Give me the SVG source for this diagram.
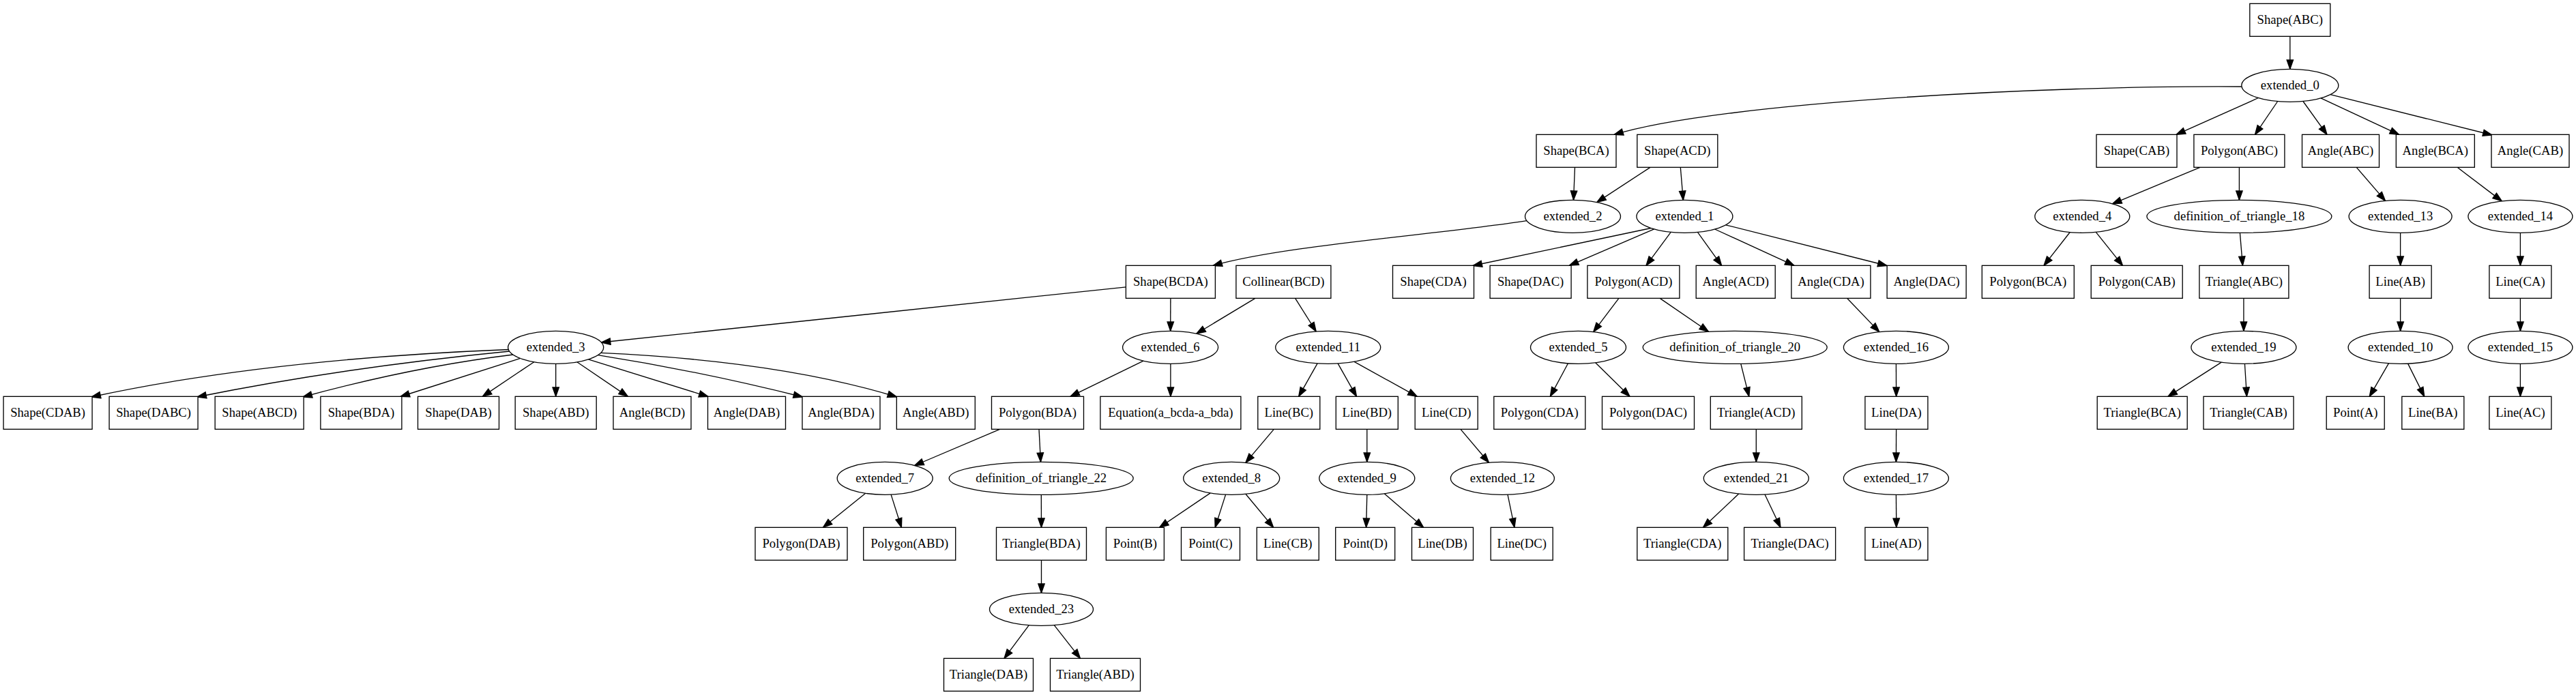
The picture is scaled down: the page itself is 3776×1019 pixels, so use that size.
<svg xmlns="http://www.w3.org/2000/svg" width="3776" height="1019" viewBox="0 0 3776 1019">
<style>
.b{fill:#fff;stroke:#000;stroke-width:1.33}
.e{fill:#fff;stroke:#000;stroke-width:1.33}
.t{font-family:"Liberation Serif","Times New Roman",serif;font-size:18.67px;text-anchor:middle;fill:#000}
.l{fill:none;stroke:#000;stroke-width:1.33;marker-end:url(#ah)}
</style>
<defs>
<marker id="ah" markerUnits="userSpaceOnUse" viewBox="0 0 14 10" markerWidth="14" markerHeight="10" refX="13.33" refY="5" orient="auto" overflow="visible">
<path d="M0,0.33 L13.33,5 L0,9.67 Z" fill="#000" stroke="#000" stroke-width="1.33"/>
</marker>
</defs>
<rect width="3776" height="1019" fill="#fff"/>
<g id="edges">
<path class="l" d="M3356.8,53.33 L3356.8,101.33"/>
<path class="l" d="M3285.8,127 C3000,125 2520,150 2366,197.5"/>
<path class="l" d="M3310.5,143.5 L3190,197.33"/>
<path class="l" d="M3338.7,148.5 L3305.5,197.33"/>
<path class="l" d="M3375.9,148.5 L3411,197.33"/>
<path class="l" d="M3402,143.8 L3516.6,197.33"/>
<path class="l" d="M3416,138.6 L3653,198"/>
<path class="l" d="M2308.5,245.33 L2306.5,293.33"/>
<path class="l" d="M2419,245.33 L2340.7,296.6"/>
<path class="l" d="M2463.3,245.33 L2467.3,293.4"/>
<path class="l" d="M2238,323.7 C2100,345 1880,360 1778,389.5"/>
<path class="l" d="M2420,334.5 L2159,389.5"/>
<path class="l" d="M2424.7,335.9 L2300.4,389.33"/>
<path class="l" d="M2449.2,340.3 L2413,389.33"/>
<path class="l" d="M2488.4,340.4 L2523.6,389.33"/>
<path class="l" d="M2513.6,336 L2630,389.33"/>
<path class="l" d="M2529.6,329.8 L2766,389.5"/>
<path class="l" d="M3225,245.33 L3096.5,298.8"/>
<path class="l" d="M3282.4,245.33 L3282.4,293.33"/>
<path class="l" d="M3454.2,245.33 L3496.5,294.4"/>
<path class="l" d="M3602,245.33 L3667.3,294.9"/>
<path class="l" d="M3034.2,340.5 L2996,389.33"/>
<path class="l" d="M3072.3,340.3 L3111.5,389.33"/>
<path class="l" d="M3283.4,341.33 L3287.4,389.33"/>
<path class="l" d="M3518.6,341.33 L3518.6,389.33"/>
<path class="l" d="M3694.4,341.33 L3694.4,389.33"/>
<path class="l" d="M1650.5,420.8 L881.4,502"/>
<path class="l" d="M1715.9,437.33 L1715.7,485.33"/>
<path class="l" d="M1839.9,437.33 L1753.8,489.2"/>
<path class="l" d="M1898.6,437.33 L1929.2,486"/>
<path class="l" d="M2372.9,437.33 L2335.7,486.6"/>
<path class="l" d="M2433.2,437.33 L2504.5,486.3"/>
<path class="l" d="M2707.5,437.33 L2754.8,486.6"/>
<path class="l" d="M3288.9,437.33 L3288.9,485.33"/>
<path class="l" d="M3518.6,437.33 L3518.6,485.33"/>
<path class="l" d="M3694.4,437.33 L3694.4,485.33"/>
<path class="l" d="M745.5,512.5 Q389.4,526.6 134,582"/>
<path class="l" d="M747,515 Q501.75,539 289,582"/>
<path class="l" d="M752,520 Q605,538 444,582"/>
<path class="l" d="M762.8,525.4 L587,581.5"/>
<path class="l" d="M782.8,530.7 L707.3,581.33"/>
<path class="l" d="M814.7,533.33 L814.7,581.33"/>
<path class="l" d="M845.8,530.8 L920.4,581.33"/>
<path class="l" d="M862.4,526.9 L1038,581.5"/>
<path class="l" d="M876.5,520.6 Q1025,544 1176.5,582"/>
<path class="l" d="M880.6,517.4 Q1142.8,529.2 1314.5,582"/>
<path class="l" d="M1676,529.1 L1568.9,581.33"/>
<path class="l" d="M1715.9,533.33 L1715.9,581.33"/>
<path class="l" d="M1931.1,532.8 L1903.7,581.33"/>
<path class="l" d="M1961.1,532.9 L1988.5,581.33"/>
<path class="l" d="M1984.7,530.2 L2077.2,581.33"/>
<path class="l" d="M2298.5,532.8 L2272.4,581.33"/>
<path class="l" d="M2338.7,531.7 L2389,581.33"/>
<path class="l" d="M2551.8,533.3 L2563.8,581.33"/>
<path class="l" d="M2779.4,533.33 L2779.6,581.33"/>
<path class="l" d="M3256.3,531.1 L3177.9,581.33"/>
<path class="l" d="M3290.4,533.33 L3293.4,581.33"/>
<path class="l" d="M3501.5,532.7 L3473.3,581.33"/>
<path class="l" d="M3529.6,533.1 L3553.7,581.33"/>
<path class="l" d="M3694.4,533.33 L3694.4,581.33"/>
<path class="l" d="M1465.6,629.33 L1340.6,682.5"/>
<path class="l" d="M1523,629.33 L1525.5,677.33"/>
<path class="l" d="M1867.3,629.33 L1825.9,678.4"/>
<path class="l" d="M2003.8,629.33 L2003.8,677.33"/>
<path class="l" d="M2141,629.33 L2182.4,678.2"/>
<path class="l" d="M2574.3,629.33 L2574.3,677.33"/>
<path class="l" d="M2779.6,629.33 L2779.4,677.33"/>
<path class="l" d="M1268.7,723.2 L1206.5,773.33"/>
<path class="l" d="M1306.1,725.1 L1321.4,773.33"/>
<path class="l" d="M1526.3,725.33 L1526.5,773.33"/>
<path class="l" d="M1774.2,722.9 L1699.6,773.33"/>
<path class="l" d="M1796.6,725.1 L1781.2,773.33"/>
<path class="l" d="M1825.9,724.3 L1866.7,773.33"/>
<path class="l" d="M2003.8,725.33 L2002.6,773.33"/>
<path class="l" d="M2029.3,723.7 L2086.7,773.33"/>
<path class="l" d="M2210,725.2 L2220,773.33"/>
<path class="l" d="M2548.7,724 L2496.5,773.33"/>
<path class="l" d="M2587,725 L2610,773.33"/>
<path class="l" d="M2779.4,725.33 L2779.8,773.33"/>
<path class="l" d="M1526.5,821.33 L1526.5,869.33"/>
<path class="l" d="M1508.3,916.6 L1472,965.33"/>
<path class="l" d="M1545.3,916.6 L1583.5,965.33"/>
</g>
<g id="Shape_ABC"><rect class="b" x="3297.8" y="5.33" width="118" height="48"/><text class="t" x="3356.8" y="34.9">Shape(ABC)</text></g>
<g id="extended_0"><ellipse class="e" cx="3356.8" cy="125.33" rx="71" ry="24"/><text class="t" x="3356.8" y="130.9">extended_0</text></g>
<g id="Shape_BCA"><rect class="b" x="2252" y="197.33" width="117" height="48"/><text class="t" x="2310.5" y="226.9">Shape(BCA)</text></g>
<g id="Shape_ACD"><rect class="b" x="2399.8" y="197.33" width="118" height="48"/><text class="t" x="2458.8" y="226.9">Shape(ACD)</text></g>
<g id="Shape_CAB"><rect class="b" x="3073" y="197.33" width="118" height="48"/><text class="t" x="3132" y="226.9">Shape(CAB)</text></g>
<g id="Polygon_ABC"><rect class="b" x="3215.9" y="197.33" width="133" height="48"/><text class="t" x="3282.4" y="226.9">Polygon(ABC)</text></g>
<g id="Angle_ABC"><rect class="b" x="3374.5" y="197.33" width="113" height="48"/><text class="t" x="3431" y="226.9">Angle(ABC)</text></g>
<g id="Angle_BCA"><rect class="b" x="3512.3" y="197.33" width="115" height="48"/><text class="t" x="3569.8" y="226.9">Angle(BCA)</text></g>
<g id="Angle_CAB"><rect class="b" x="3652" y="197.33" width="114" height="48"/><text class="t" x="3709" y="226.9">Angle(CAB)</text></g>
<g id="extended_2"><ellipse class="e" cx="2305.5" cy="317.33" rx="70" ry="24"/><text class="t" x="2305.5" y="322.9">extended_2</text></g>
<g id="extended_1"><ellipse class="e" cx="2469.4" cy="317.33" rx="70.5" ry="24"/><text class="t" x="2469.4" y="322.9">extended_1</text></g>
<g id="extended_4"><ellipse class="e" cx="3052.3" cy="317.33" rx="69.5" ry="24"/><text class="t" x="3052.3" y="322.9">extended_4</text></g>
<g id="definition_of_triangle_18"><ellipse class="e" cx="3282.4" cy="317.33" rx="135.5" ry="24"/><text class="t" x="3282.4" y="322.9">definition_of_triangle_18</text></g>
<g id="extended_13"><ellipse class="e" cx="3518.6" cy="317.33" rx="75.5" ry="24"/><text class="t" x="3518.6" y="322.9">extended_13</text></g>
<g id="extended_14"><ellipse class="e" cx="3694.4" cy="317.33" rx="76.5" ry="24"/><text class="t" x="3694.4" y="322.9">extended_14</text></g>
<g id="Shape_BCDA"><rect class="b" x="1650.4" y="389.33" width="131" height="48"/><text class="t" x="1715.9" y="418.9">Shape(BCDA)</text></g>
<g id="Collinear_BCD"><rect class="b" x="1811.9" y="389.33" width="139" height="48"/><text class="t" x="1881.4" y="418.9">Collinear(BCD)</text></g>
<g id="Shape_CDA"><rect class="b" x="2041.5" y="389.33" width="119" height="48"/><text class="t" x="2101" y="418.9">Shape(CDA)</text></g>
<g id="Shape_DAC"><rect class="b" x="2184.1" y="389.33" width="119" height="48"/><text class="t" x="2243.6" y="418.9">Shape(DAC)</text></g>
<g id="Polygon_ACD"><rect class="b" x="2326.9" y="389.33" width="135" height="48"/><text class="t" x="2394.4" y="418.9">Polygon(ACD)</text></g>
<g id="Angle_ACD"><rect class="b" x="2486.2" y="389.33" width="116" height="48"/><text class="t" x="2544.2" y="418.9">Angle(ACD)</text></g>
<g id="Angle_CDA"><rect class="b" x="2625.9" y="389.33" width="116" height="48"/><text class="t" x="2683.9" y="418.9">Angle(CDA)</text></g>
<g id="Angle_DAC"><rect class="b" x="2766.1" y="389.33" width="116" height="48"/><text class="t" x="2824.1" y="418.9">Angle(DAC)</text></g>
<g id="Polygon_BCA"><rect class="b" x="2905.3" y="389.33" width="135" height="48"/><text class="t" x="2972.8" y="418.9">Polygon(BCA)</text></g>
<g id="Polygon_CAB"><rect class="b" x="3065.2" y="389.33" width="134" height="48"/><text class="t" x="3132.2" y="418.9">Polygon(CAB)</text></g>
<g id="Triangle_ABC"><rect class="b" x="3223.9" y="389.33" width="131" height="48"/><text class="t" x="3289.4" y="418.9">Triangle(ABC)</text></g>
<g id="Line_AB"><rect class="b" x="3473.1" y="389.33" width="91" height="48"/><text class="t" x="3518.6" y="418.9">Line(AB)</text></g>
<g id="Line_CA"><rect class="b" x="3648.9" y="389.33" width="91" height="48"/><text class="t" x="3694.4" y="418.9">Line(CA)</text></g>
<g id="extended_3"><ellipse class="e" cx="814.7" cy="509.33" rx="70" ry="24"/><text class="t" x="814.7" y="514.9">extended_3</text></g>
<g id="extended_6"><ellipse class="e" cx="1715.6" cy="509.33" rx="70" ry="24"/><text class="t" x="1715.6" y="514.9">extended_6</text></g>
<g id="extended_11"><ellipse class="e" cx="1946.7" cy="509.33" rx="77" ry="24"/><text class="t" x="1946.7" y="514.9">extended_11</text></g>
<g id="extended_5"><ellipse class="e" cx="2313.5" cy="509.33" rx="70" ry="24"/><text class="t" x="2313.5" y="514.9">extended_5</text></g>
<g id="definition_of_triangle_20"><ellipse class="e" cx="2543.2" cy="509.33" rx="135" ry="24"/><text class="t" x="2543.2" y="514.9">definition_of_triangle_20</text></g>
<g id="extended_16"><ellipse class="e" cx="2779.4" cy="509.33" rx="77" ry="24"/><text class="t" x="2779.4" y="514.9">extended_16</text></g>
<g id="extended_19"><ellipse class="e" cx="3288.9" cy="509.33" rx="77" ry="24"/><text class="t" x="3288.9" y="514.9">extended_19</text></g>
<g id="extended_10"><ellipse class="e" cx="3518.6" cy="509.33" rx="76.5" ry="24"/><text class="t" x="3518.6" y="514.9">extended_10</text></g>
<g id="extended_15"><ellipse class="e" cx="3694.4" cy="509.33" rx="76.5" ry="24"/><text class="t" x="3694.4" y="514.9">extended_15</text></g>
<g id="Shape_CDAB"><rect class="b" x="5.1" y="581.33" width="130" height="48"/><text class="t" x="70.1" y="610.9">Shape(CDAB)</text></g>
<g id="Shape_DABC"><rect class="b" x="160.1" y="581.33" width="130" height="48"/><text class="t" x="225.1" y="610.9">Shape(DABC)</text></g>
<g id="Shape_ABCD"><rect class="b" x="315.2" y="581.33" width="130" height="48"/><text class="t" x="380.2" y="610.9">Shape(ABCD)</text></g>
<g id="Shape_BDA"><rect class="b" x="469.9" y="581.33" width="119" height="48"/><text class="t" x="529.4" y="610.9">Shape(BDA)</text></g>
<g id="Shape_DAB"><rect class="b" x="612.5" y="581.33" width="119" height="48"/><text class="t" x="672" y="610.9">Shape(DAB)</text></g>
<g id="Shape_ABD"><rect class="b" x="755.2" y="581.33" width="119" height="48"/><text class="t" x="814.7" y="610.9">Shape(ABD)</text></g>
<g id="Angle_BCD"><rect class="b" x="899" y="581.33" width="114" height="48"/><text class="t" x="956" y="610.9">Angle(BCD)</text></g>
<g id="Angle_DAB"><rect class="b" x="1037.5" y="581.33" width="114" height="48"/><text class="t" x="1094.5" y="610.9">Angle(DAB)</text></g>
<g id="Angle_BDA"><rect class="b" x="1176" y="581.33" width="114" height="48"/><text class="t" x="1233" y="610.9">Angle(BDA)</text></g>
<g id="Angle_ABD"><rect class="b" x="1314.3" y="581.33" width="115" height="48"/><text class="t" x="1371.8" y="610.9">Angle(ABD)</text></g>
<g id="Polygon_BDA"><rect class="b" x="1453.5" y="581.33" width="135" height="48"/><text class="t" x="1521" y="610.9">Polygon(BDA)</text></g>
<g id="Equation_a_bcda-a_bda"><rect class="b" x="1612.9" y="581.33" width="206" height="48"/><text class="t" x="1715.9" y="610.9">Equation(a_bcda-a_bda)</text></g>
<g id="Line_BC"><rect class="b" x="1843.8" y="581.33" width="91" height="48"/><text class="t" x="1889.3" y="610.9">Line(BC)</text></g>
<g id="Line_BD"><rect class="b" x="1958.3" y="581.33" width="91" height="48"/><text class="t" x="2003.8" y="610.9">Line(BD)</text></g>
<g id="Line_CD"><rect class="b" x="2074.2" y="581.33" width="92" height="48"/><text class="t" x="2120.2" y="610.9">Line(CD)</text></g>
<g id="Polygon_CDA"><rect class="b" x="2189.8" y="581.33" width="134" height="48"/><text class="t" x="2256.8" y="610.9">Polygon(CDA)</text></g>
<g id="Polygon_DAC"><rect class="b" x="2348.5" y="581.33" width="135" height="48"/><text class="t" x="2416" y="610.9">Polygon(DAC)</text></g>
<g id="Triangle_ACD"><rect class="b" x="2507.3" y="581.33" width="134" height="48"/><text class="t" x="2574.3" y="610.9">Triangle(ACD)</text></g>
<g id="Line_DA"><rect class="b" x="2733.9" y="581.33" width="92" height="48"/><text class="t" x="2779.9" y="610.9">Line(DA)</text></g>
<g id="Triangle_BCA"><rect class="b" x="3074.2" y="581.33" width="132" height="48"/><text class="t" x="3140.2" y="610.9">Triangle(BCA)</text></g>
<g id="Triangle_CAB"><rect class="b" x="3230" y="581.33" width="132" height="48"/><text class="t" x="3296" y="610.9">Triangle(CAB)</text></g>
<g id="Point_A"><rect class="b" x="3410.2" y="581.33" width="85" height="48"/><text class="t" x="3452.7" y="610.9">Point(A)</text></g>
<g id="Line_BA"><rect class="b" x="3520.8" y="581.33" width="91" height="48"/><text class="t" x="3566.3" y="610.9">Line(BA)</text></g>
<g id="Line_AC"><rect class="b" x="3648.9" y="581.33" width="91" height="48"/><text class="t" x="3694.4" y="610.9">Line(AC)</text></g>
<g id="extended_7"><ellipse class="e" cx="1297.2" cy="701.33" rx="70" ry="24"/><text class="t" x="1297.2" y="706.9">extended_7</text></g>
<g id="definition_of_triangle_22"><ellipse class="e" cx="1526.2" cy="701.33" rx="135" ry="24"/><text class="t" x="1526.2" y="706.9">definition_of_triangle_22</text></g>
<g id="extended_8"><ellipse class="e" cx="1805.2" cy="701.33" rx="70.5" ry="24"/><text class="t" x="1805.2" y="706.9">extended_8</text></g>
<g id="extended_9"><ellipse class="e" cx="2003.8" cy="701.33" rx="70" ry="24"/><text class="t" x="2003.8" y="706.9">extended_9</text></g>
<g id="extended_12"><ellipse class="e" cx="2202.4" cy="701.33" rx="76" ry="24"/><text class="t" x="2202.4" y="706.9">extended_12</text></g>
<g id="extended_21"><ellipse class="e" cx="2574.3" cy="701.33" rx="77" ry="24"/><text class="t" x="2574.3" y="706.9">extended_21</text></g>
<g id="extended_17"><ellipse class="e" cx="2779.4" cy="701.33" rx="77" ry="24"/><text class="t" x="2779.4" y="706.9">extended_17</text></g>
<g id="Polygon_DAB"><rect class="b" x="1107" y="773.33" width="135" height="48"/><text class="t" x="1174.5" y="802.9">Polygon(DAB)</text></g>
<g id="Polygon_ABD"><rect class="b" x="1265.7" y="773.33" width="135" height="48"/><text class="t" x="1333.2" y="802.9">Polygon(ABD)</text></g>
<g id="Triangle_BDA"><rect class="b" x="1460.5" y="773.33" width="132" height="48"/><text class="t" x="1526.5" y="802.9">Triangle(BDA)</text></g>
<g id="Point_B"><rect class="b" x="1621.4" y="773.33" width="85" height="48"/><text class="t" x="1663.9" y="802.9">Point(B)</text></g>
<g id="Point_C"><rect class="b" x="1731.5" y="773.33" width="86" height="48"/><text class="t" x="1774.5" y="802.9">Point(C)</text></g>
<g id="Line_CB"><rect class="b" x="1842.3" y="773.33" width="91" height="48"/><text class="t" x="1887.8" y="802.9">Line(CB)</text></g>
<g id="Point_D"><rect class="b" x="1957.7" y="773.33" width="87" height="48"/><text class="t" x="2001.2" y="802.9">Point(D)</text></g>
<g id="Line_DB"><rect class="b" x="2069.5" y="773.33" width="90" height="48"/><text class="t" x="2114.5" y="802.9">Line(DB)</text></g>
<g id="Line_DC"><rect class="b" x="2185.2" y="773.33" width="91" height="48"/><text class="t" x="2230.7" y="802.9">Line(DC)</text></g>
<g id="Triangle_CDA"><rect class="b" x="2399.8" y="773.33" width="133" height="48"/><text class="t" x="2466.3" y="802.9">Triangle(CDA)</text></g>
<g id="Triangle_DAC"><rect class="b" x="2556.6" y="773.33" width="134" height="48"/><text class="t" x="2623.6" y="802.9">Triangle(DAC)</text></g>
<g id="Line_AD"><rect class="b" x="2733.9" y="773.33" width="92" height="48"/><text class="t" x="2779.9" y="802.9">Line(AD)</text></g>
<g id="extended_23"><ellipse class="e" cx="1526.5" cy="893.33" rx="76" ry="24"/><text class="t" x="1526.5" y="898.9">extended_23</text></g>
<g id="Triangle_DAB"><rect class="b" x="1383.5" y="965.33" width="131" height="48"/><text class="t" x="1449" y="994.9">Triangle(DAB)</text></g>
<g id="Triangle_ABD"><rect class="b" x="1539.5" y="965.33" width="132" height="48"/><text class="t" x="1605.5" y="994.9">Triangle(ABD)</text></g>
</svg>
